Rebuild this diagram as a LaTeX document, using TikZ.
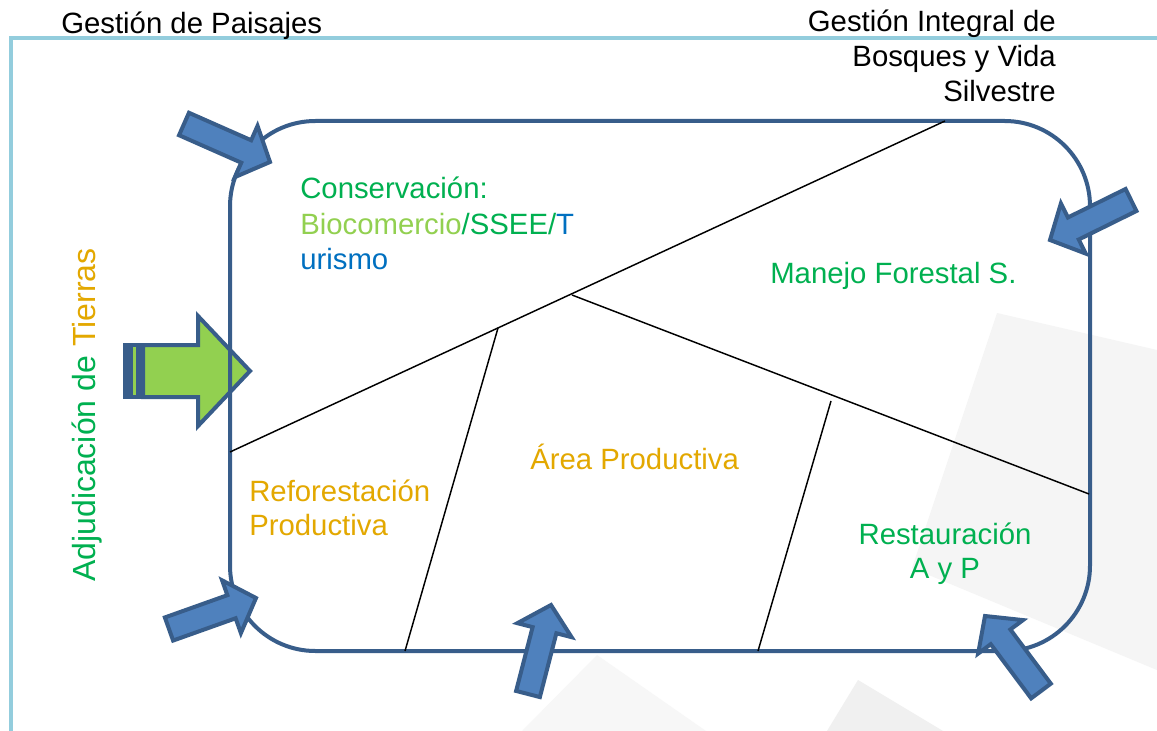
\documentclass[tikz,border=0pt]{standalone}
\usepackage{fontspec}
\setmainfont{Liberation Sans}
\usetikzlibrary{calc}
\definecolor{frame}{RGB}{56,93,138}
\definecolor{afill}{RGB}{79,129,189}
\definecolor{tgreen}{RGB}{0,176,80}
\definecolor{lgreen}{RGB}{146,208,80}
\definecolor{tblue}{RGB}{0,112,192}
\definecolor{tgold}{RGB}{227,168,0}
\definecolor{lblue}{RGB}{147,205,221}
\newcommand\blkarrow[2]{%
  \coordinate (bah) at ($(#2)!19.5pt!(#1)$);
  \draw[barrow] ($(#1)!9.2pt!90:(#2)$) -- ($(bah)!9.2pt!90:(#2)$) -- ($(bah)!21pt!90:(#2)$) -- (#2)
    -- ($(bah)!21pt!-90:(#2)$) -- ($(bah)!9.2pt!-90:(#2)$) -- ($(#1)!9.2pt!-90:(#2)$) -- cycle;}
\begin{document}
\begin{tikzpicture}[x=0.75pt,y=-0.75pt,
  lbl/.style={inner sep=0pt, font=\fontsize{22}{26.4}\selectfont},
  barrow/.style={draw=frame, fill=afill, line width=3pt, line join=miter},
  divider/.style={draw=black, line width=1.1pt},
  bgshape/.style={draw=none}]
\useasboundingbox (0,0) rectangle (1157,731);
\fill[white] (0,0) rectangle (1157,731);
% faint background shapes
\fill[black!4] (997,313) -- (1157,350) -- (1157,670) -- (912,568) -- cycle;
\fill[black!3] (597,655) -- (522,731) -- (706,731) -- cycle;
\fill[black!6] (858,680) -- (827,731) -- (943,731) -- cycle;
% light blue frame lines
\draw[lblue, line width=3pt] (9,38) -- (1157,38);
\draw[lblue, line width=3pt] (11,38) -- (11,731);
% titles
\node[lbl, anchor=base west] (t1) at (61,34) {Gestión de Paisajes};
\node[lbl, anchor=base east] (t2a) at (1056,32) {Gestión Integral de};
\node[lbl, anchor=base east] (t2b) at (1056,67) {Bosques y Vida};
\node[lbl, anchor=base east] (t2c) at (1056,102) {Silvestre};
% green striped arrow (under the frame)
\fill[frame] (123,343) rectangle (143,399);
\draw[lgreen, line width=1.6pt] (134.5,347) -- (134.5,395);
\draw[draw=frame, fill=lgreen, line width=3pt, line join=miter]
  (143,345) -- (198,345) -- (198,316) -- (250,371) -- (198,426) -- (198,397) -- (143,397) -- cycle;
% main rounded frame
\draw[frame, line width=3pt, rounded corners=64pt] (230,121) rectangle (1090,651);
% dividers
\coordinate (d1a) at (230,452);
\coordinate (d1b) at (945,121);
\coordinate (d2a) at (572,295);
\coordinate (d2b) at (1089,494);
\coordinate (d3a) at (498,328);
\coordinate (d3b) at (405,651);
\coordinate (d4a) at (831,401);
\coordinate (d4b) at (758,651);
\draw[divider] (d1a) -- (d1b);
\draw[divider] (d2a) -- (d2b);
\draw[divider] (d3a) -- (d3b);
\draw[divider] (d4a) -- (d4b);
% block arrows
\coordinate (a1t) at (184,124); \coordinate (a1p) at (270,162);
\coordinate (a2t) at (1131,200); \coordinate (a2p) at (1050,240);
\coordinate (a4t) at (169,629); \coordinate (a4p) at (256,598);
\coordinate (a5t) at (528,694); \coordinate (a5p) at (551,605);
\coordinate (a6t) at (1041,691); \coordinate (a6p) at (985,616);
\blkarrow{a1t}{a1p}
\blkarrow{a2t}{a2p}
\blkarrow{a4t}{a4p}
\blkarrow{a5t}{a5p}
\blkarrow{a6t}{a6p}
% region labels
\node[lbl, anchor=base west, text=tgreen] (c1) at (300,199) {Conservación:};
\node[lbl, anchor=base west] (c2) at (300,234) {\textcolor{lgreen}{Biocomercio}\textcolor{tgreen}{/SSEE/}\textcolor{tblue}{T}};
\node[lbl, anchor=base west, text=tblue] (c3) at (300,269) {urismo};
\node[lbl, anchor=base west, text=tgreen] (mf) at (770,283) {Manejo Forestal S.};
\node[lbl, anchor=base west, text=tgold] (r1) at (249,501) {Reforestación};
\node[lbl, anchor=base west, text=tgold] (r2) at (249,535) {Productiva};
\node[lbl, anchor=base west, text=tgold] (ap) at (530,469) {Área Productiva};
\node[lbl, anchor=base, text=tgreen] (re1) at (945,544) {Restauración};
\node[lbl, anchor=base, text=tgreen] (re2) at (945,578) {A y P};
\node[inner sep=0pt, font=\fontsize{24}{28.8}\selectfont, rotate=90, anchor=base west] (adj) at (95,582)
  {\textcolor{tgreen}{Adjudicación de }\textcolor{tgold}{Tierras}};
\end{tikzpicture}
\end{document}
